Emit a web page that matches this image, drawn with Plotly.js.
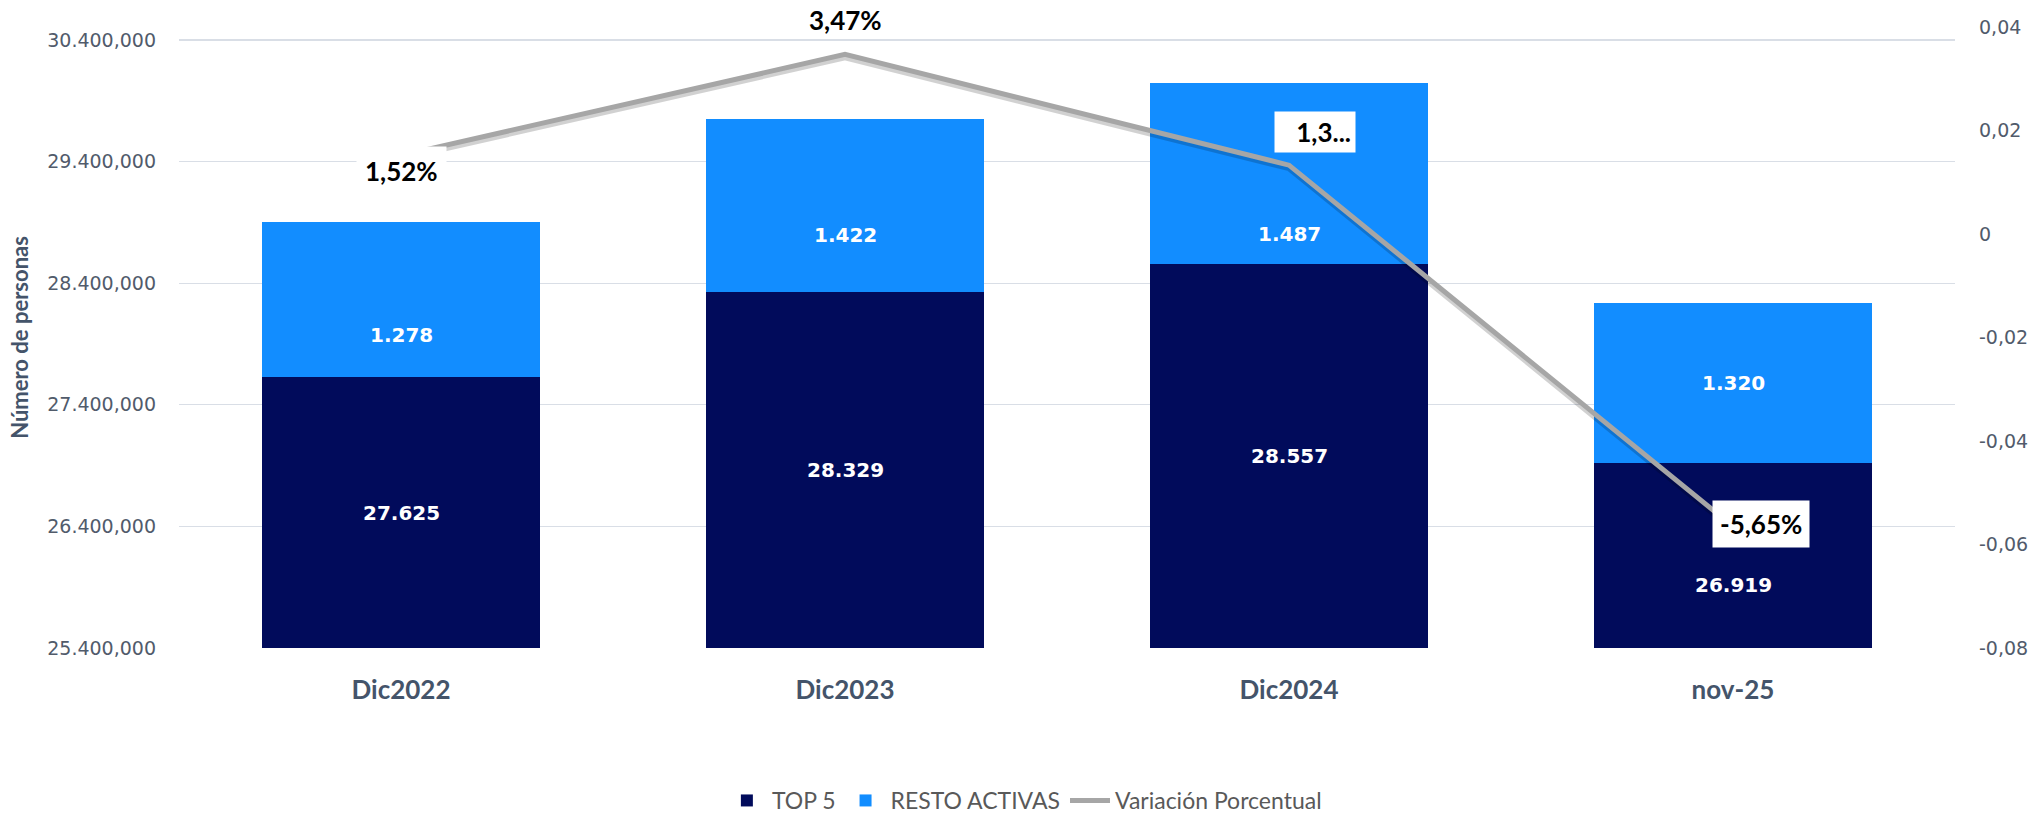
<!DOCTYPE html>
<html>
<head>
<meta charset="utf-8">
<script src="https://cdn.plot.ly/plotly-3.0.1.min.js"></script>
<style>
  html, body { margin: 0; padding: 0; background: #ffffff; }
  #chart { width: 2041px; height: 822px; }
</style>
</head>
<body>
<div id="chart"></div>
<script>
// ---- data ----
const categories = ['Dic2022', 'Dic2023', 'Dic2024', 'nov-25'];
const top5 = [27625000, 28329000, 28557000, 26919000];
const resto = [1278000, 1422000, 1487000, 1320000];
const variacion = [0.0152, 0.0347, 0.0133, -0.0565];
const variacionLabels = ['1,52%', '3,47%', '1,3...', '-5,65%'];
const leftTickVals = [25400000, 26400000, 27400000, 28400000, 29400000, 30400000];
const leftTickText = ['25.400,000', '26.400,000', '27.400,000', '28.400,000', '29.400,000', '30.400,000'];
const rightTickVals = [-0.08, -0.06, -0.04, -0.02, 0, 0.02, 0.04];
const rightTickText = ['-0,08', '-0,06', '-0,04', '-0,02', '0', '0,02', '0,04'];

// ---- styles / label placement ----
const NAVY = '#010B5B';
const BLUE = '#128DFF';
const GREY = '#A6A6A6';
const CAL = 'Lato, "Open Sans", sans-serif';
const VER = '"DejaVu Sans", Verdana, sans-serif';
const AXIS_MIN = 25400000;
const restoLabelShift = [-35, -30, -60, 0];
const top5LabelShift = [0, 0, 0, -29];
const varLabelStyle = [
  {xshift: 0, yshift: -16, bg: '#ffffff', pad: 8},
  {xshift: 0, yshift: 34, bg: 'rgba(0,0,0,0)', pad: 2},
  {xshift: 26, yshift: 33, bg: '#ffffff', pad: 4, width: 72, align: 'right'},
  {xshift: 28, yshift: 2, bg: '#ffffff', pad: 7}
];

function thousands(v) {
  const s = String(Math.round(v / 1000));
  return s.replace(/\B(?=(\d{3})+(?!\d))/g, '.');
}

const traces = [
  {
    type: 'bar', name: 'TOP 5', x: categories, y: top5,
    marker: {color: NAVY}, yaxis: 'y', hoverinfo: 'skip'
  },
  {
    type: 'bar', name: 'RESTO ACTIVAS', x: categories, y: resto,
    marker: {color: BLUE}, yaxis: 'y', hoverinfo: 'skip'
  },
  {
    type: 'scatter', mode: 'lines', name: 'shadow', x: categories, y: variacion,
    line: {color: 'rgba(0,0,0,0.18)', width: 6}, yaxis: 'y2', showlegend: false, hoverinfo: 'skip'
  },
  {
    type: 'scatter', mode: 'lines', name: 'Variación Porcentual', x: categories, y: variacion,
    line: {color: GREY, width: 5}, yaxis: 'y3', hoverinfo: 'skip'
  }
];

const annotations = [];
categories.forEach((c, i) => {
  annotations.push({
    xref: 'x', yref: 'y', x: c, y: (AXIS_MIN + top5[i]) / 2,
    text: thousands(top5[i]), showarrow: false, yshift: top5LabelShift[i],
    font: {family: VER, size: 20, color: '#ffffff', weight: 'bold'}
  });
  annotations.push({
    xref: 'x', yref: 'y', x: c, y: top5[i] + resto[i] / 2,
    text: thousands(resto[i]), showarrow: false, yshift: restoLabelShift[i],
    font: {family: VER, size: 20, color: '#ffffff', weight: 'bold'}
  });
  const st = varLabelStyle[i];
  const a = {
    xref: 'x', yref: 'y3', x: c, y: variacion[i],
    text: variacionLabels[i], showarrow: false,
    xshift: st.xshift, yshift: st.yshift,
    bgcolor: st.bg, borderpad: st.pad,
    font: {family: CAL, size: 26, color: '#000000', weight: 'bold'}
  };
  if (st.width) { a.width = st.width; a.align = st.align; }
  annotations.push(a);
});

const plotH = 822 - 27 - 174;
const shadowShift = 3 * 0.12 / plotH;

const layout = {
  width: 2041, height: 822,
  margin: {l: 179, r: 86, t: 27, b: 174, pad: 0, autoexpand: false},
  paper_bgcolor: '#ffffff', plot_bgcolor: '#ffffff',
  barmode: 'stack', bargap: 0.374,
  showlegend: true,
  legend: {
    orientation: 'h', xref: 'paper', yref: 'container',
    x: 0.476, xanchor: 'center', y: 0.0, yanchor: 'bottom',
    font: {family: CAL, size: 23, color: '#595959'}, traceorder: 'normal',
    itemwidth: 40
  },
  xaxis: {
    type: 'category', range: [-0.5, 3.5], showgrid: false, zeroline: false, showline: false,
    ticks: '', ticklabelstandoff: 24,
    tickfont: {family: CAL, size: 26, color: '#44546A', weight: 'bold'}
  },
  yaxis: {
    range: [25400000, 30507000], tickvals: leftTickVals, ticktext: leftTickText,
    showgrid: true, gridcolor: '#D9DEE6', gridwidth: 1.2, zeroline: false, showline: false,
    ticks: '', ticklabelstandoff: 22,
    tickfont: {family: VER, size: 19, color: '#515B6B'},
    title: {text: 'Número de personas', standoff: 12,
            font: {family: CAL, size: 22, color: '#44546A', weight: 'bold'}}
  },
  yaxis2: {
    overlaying: 'y', side: 'right', visible: false,
    range: [-0.08 + shadowShift, 0.04 + shadowShift]
  },
  yaxis3: {
    overlaying: 'y', side: 'right', range: [-0.08, 0.04],
    tickvals: rightTickVals, ticktext: rightTickText,
    showgrid: false, zeroline: false, showline: false, ticks: '', ticklabelstandoff: 23,
    tickfont: {family: VER, size: 19, color: '#515B6B'}
  },
  annotations: annotations
};

Plotly.newPlot('chart', traces, layout, {displayModeBar: false, staticPlot: true});
</script>
</body>
</html>
